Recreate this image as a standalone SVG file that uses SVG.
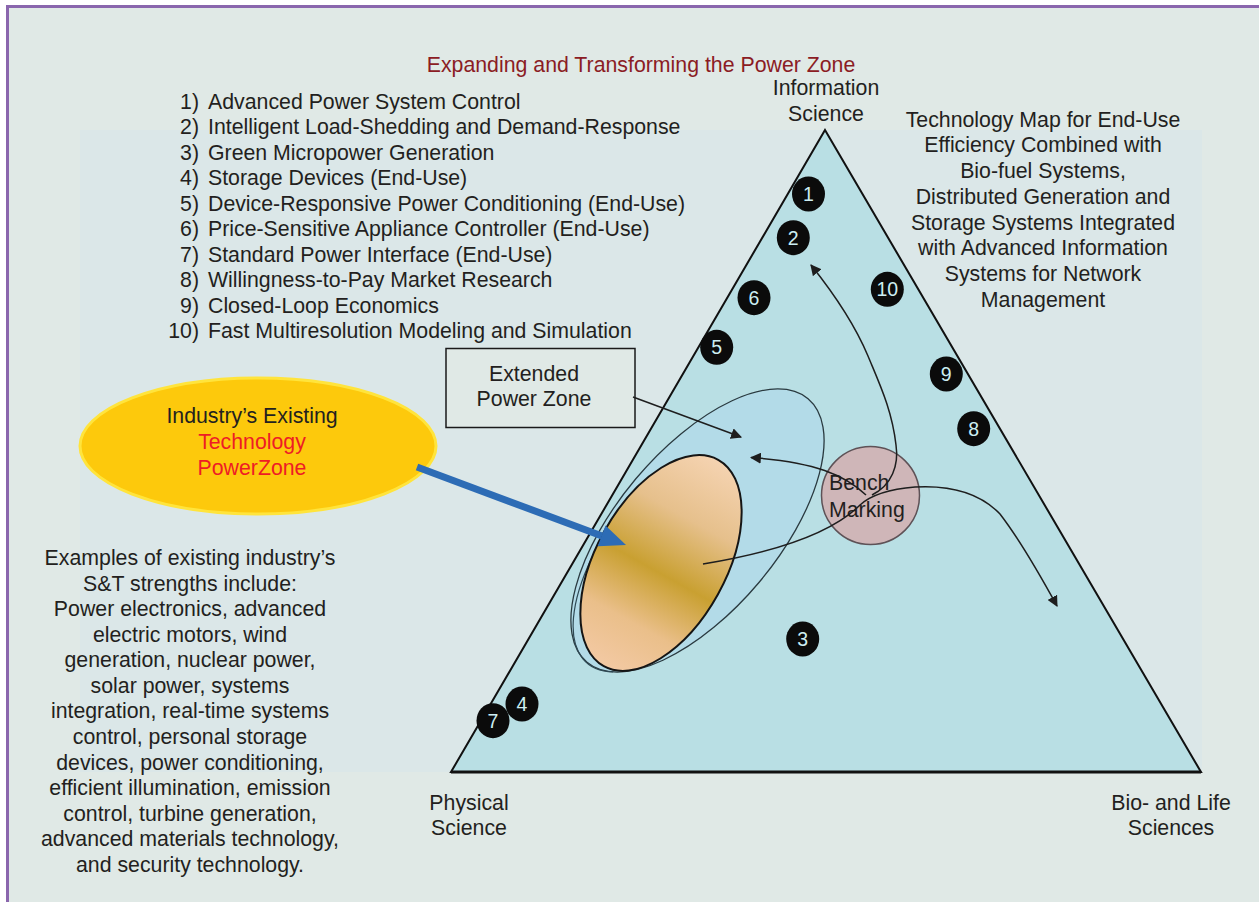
<svg xmlns="http://www.w3.org/2000/svg" width="1259" height="902" viewBox="0 0 1259 902">
<style>
text{font-family:"Liberation Sans",Arial,Helvetica,sans-serif;fill:#231f20}
.t21{font-size:21.3px}
.t20{font-size:21.3px}
.c{text-anchor:middle}
.e{text-anchor:end}
.num{fill:#0b0b0b}
.numt{font-size:19.5px;fill:#cdeef2;text-anchor:middle}
.conn{fill:none;stroke:#1e1e1e;stroke-width:1.5}
</style>
<defs>
<marker id="ah" viewBox="0 0 10 10" refX="9" refY="5" markerWidth="11" markerHeight="11" markerUnits="userSpaceOnUse" orient="auto">
<path d="M0,0 L10,5 L0,10 Z" fill="#1e1e1e"/>
</marker>
<linearGradient id="og" x1="0" y1="0" x2="1" y2="0">
<stop offset="0" stop-color="#f3c9a3"/>
<stop offset="0.22" stop-color="#eabf8a"/>
<stop offset="0.46" stop-color="#c9a031"/>
<stop offset="0.72" stop-color="#e6c08c"/>
<stop offset="1" stop-color="#f5d3b1"/>
</linearGradient>
</defs>
<rect x="0" y="0" width="1259" height="902" fill="#ffffff"/>
<rect x="7" y="6" width="1252" height="896" fill="#e0e9e6"/>
<rect x="80" y="130" width="1122" height="642" fill="#dbe7e8"/>
<path d="M7.5,902 V6.5 H1259" fill="none" stroke="#8a66ad" stroke-width="3"/>

<text class="t21 c" x="641" y="72" style="fill:#8b1c24">Expanding and Transforming the Power Zone</text>

<g id="list">
<text class="t20 e" x="199" y="108.5">1)</text><text class="t20" x="208" y="108.5">Advanced Power System Control</text>
<text class="t20 e" x="199" y="134">2)</text><text class="t20" x="208" y="134">Intelligent Load-Shedding and Demand-Response</text>
<text class="t20 e" x="199" y="159.5">3)</text><text class="t20" x="208" y="159.5">Green Micropower Generation</text>
<text class="t20 e" x="199" y="185">4)</text><text class="t20" x="208" y="185">Storage Devices (End-Use)</text>
<text class="t20 e" x="199" y="210.5">5)</text><text class="t20" x="208" y="210.5">Device-Responsive Power Conditioning (End-Use)</text>
<text class="t20 e" x="199" y="236">6)</text><text class="t20" x="208" y="236">Price-Sensitive Appliance Controller (End-Use)</text>
<text class="t20 e" x="199" y="261.5">7)</text><text class="t20" x="208" y="261.5">Standard Power Interface (End-Use)</text>
<text class="t20 e" x="199" y="287">8)</text><text class="t20" x="208" y="287">Willingness-to-Pay Market Research</text>
<text class="t20 e" x="199" y="312.5">9)</text><text class="t20" x="208" y="312.5">Closed-Loop Economics</text>
<text class="t20 e" x="199" y="338">10)</text><text class="t20" x="208" y="338">Fast Multiresolution Modeling and Simulation</text>
</g>

<g id="info-science">
<text class="t21 c" x="826" y="95">Information</text>
<text class="t21 c" x="826" y="121">Science</text>
</g>

<g id="tech-map-note">
<text class="t21 c" x="1043" y="126.7">Technology Map for End-Use</text>
<text class="t21 c" x="1043" y="152.4">Efficiency Combined with</text>
<text class="t21 c" x="1043" y="178.1">Bio-fuel Systems,</text>
<text class="t21 c" x="1043" y="203.8">Distributed Generation and</text>
<text class="t21 c" x="1043" y="229.5">Storage Systems Integrated</text>
<text class="t21 c" x="1043" y="255.2">with Advanced Information</text>
<text class="t21 c" x="1043" y="280.9">Systems for Network</text>
<text class="t21 c" x="1043" y="306.6">Management</text>
</g>

<g id="triangle">
<path d="M825,130 L1201,772 L451,772 Z" fill="#b9dfe4" stroke="#111" stroke-width="2" stroke-linejoin="miter"/>
<line x1="451" y1="772" x2="1201" y2="772" stroke="#111" stroke-width="3"/>
</g>

<g id="extended-zone">
<ellipse cx="697.5" cy="530.5" rx="172" ry="80.5" transform="rotate(-50 697.5 530.5)" fill="#b3dbe8" stroke="#2a3a40" stroke-width="1.3"/>
<path d="M613.1,671.8 A166,74 -50 0 1 628.2,499.7" fill="none" stroke="#2f4a55" stroke-width="1.2"/>
</g>

<g id="existing-zone">
<ellipse cx="661" cy="563" rx="118" ry="65" transform="rotate(-61 661 563)" fill="url(#og)" stroke="#151515" stroke-width="2"/>
</g>

<g id="bench-marking">
<circle cx="870.5" cy="495.5" r="49" fill="#cfb6b8" stroke="#5e5257" stroke-width="1.5"/>
<text class="t21" x="829" y="490">Bench</text>
<text class="t21" x="829" y="516.5">Marking</text>
</g>

<g id="ext-box">
<rect x="446" y="348.5" width="189" height="79" fill="#e0e9e6" stroke="#1a1a1a" stroke-width="1.5"/>
<text class="t21 c" x="534" y="381">Extended</text>
<text class="t21 c" x="534" y="405.5">Power Zone</text>
</g>

<g id="industry-zone">
<ellipse cx="258" cy="446" rx="178" ry="68" fill="#fdc90c" stroke="#ffe43c" stroke-width="3"/>
<text class="t21 c" x="252" y="423">Industry’s Existing</text>
<text class="t21 c" x="252" y="449" style="fill:#ee1c25">Technology</text>
<text class="t21 c" x="252" y="474.5" style="fill:#ee1c25">PowerZone</text>
</g>

<g id="examples-note">
<text class="t21 c" x="190" y="565">Examples of existing industry’s</text>
<text class="t21 c" x="190" y="590.6">S&amp;T strengths include:</text>
<text class="t21 c" x="190" y="616.1">Power electronics, advanced</text>
<text class="t21 c" x="190" y="641.7">electric motors, wind</text>
<text class="t21 c" x="190" y="667.2">generation, nuclear power,</text>
<text class="t21 c" x="190" y="692.8">solar power, systems</text>
<text class="t21 c" x="190" y="718.4">integration, real-time systems</text>
<text class="t21 c" x="190" y="743.9">control, personal storage</text>
<text class="t21 c" x="190" y="769.5">devices, power conditioning,</text>
<text class="t21 c" x="190" y="795">efficient illumination, emission</text>
<text class="t21 c" x="190" y="820.6">control, turbine generation,</text>
<text class="t21 c" x="190" y="846.2">advanced materials technology,</text>
<text class="t21 c" x="190" y="871.7">and security technology.</text>
</g>

<g id="physical-science">
<text class="t21 c" x="469" y="810">Physical</text>
<text class="t21 c" x="469" y="835">Science</text>
</g>
<g id="bio-life">
<text class="t21 c" x="1171" y="810">Bio- and Life</text>
<text class="t21 c" x="1171" y="835">Sciences</text>
</g>

<g id="markers">
<g id="m1"><ellipse class="num" cx="808.5" cy="194" rx="16.5" ry="17.5"/><text class="numt" x="808.5" y="201">1</text></g>
<g id="m2"><ellipse class="num" cx="793.3" cy="237.7" rx="16.5" ry="17.5"/><text class="numt" x="793.3" y="244.7">2</text></g>
<g id="m3"><ellipse class="num" cx="802.7" cy="639" rx="16.5" ry="17.5"/><text class="numt" x="802.7" y="646">3</text></g>
<g id="m4"><ellipse class="num" cx="522" cy="704" rx="16.5" ry="17.5"/><text class="numt" x="522" y="711">4</text></g>
<g id="m5"><ellipse class="num" cx="716.7" cy="347.3" rx="16.5" ry="17.5"/><text class="numt" x="716.7" y="354.3">5</text></g>
<g id="m6"><ellipse class="num" cx="754" cy="297.7" rx="16.5" ry="17.5"/><text class="numt" x="754" y="304.7">6</text></g>
<g id="m7"><ellipse class="num" cx="493" cy="720.7" rx="16.5" ry="17.5"/><text class="numt" x="493" y="727.7">7</text></g>
<g id="m8"><ellipse class="num" cx="973.7" cy="428.7" rx="16.5" ry="17.5"/><text class="numt" x="973.7" y="435.7">8</text></g>
<g id="m9"><ellipse class="num" cx="946.3" cy="374" rx="16.5" ry="17.5"/><text class="numt" x="946.3" y="381">9</text></g>
<g id="m10"><ellipse class="num" cx="887.3" cy="289.3" rx="16.5" ry="17.5"/><text class="numt" x="887.3" y="296.3">10</text></g>
</g>

<g id="connectors">
<path class="conn" d="M633,397 L741,437" marker-end="url(#ah)"/>
<path class="conn" d="M703,564 C770,553 830,535 860,505 C872,494 890,489 915,487 C950,485 980,493 1000,514 C1020,540 1040,575 1057,606" marker-end="url(#ah)"/>
<path class="conn" d="M866,495 C845,475 815,462 751,457.5" marker-end="url(#ah)"/>
<path class="conn" d="M872,495 C892,485 899,465 896,445 C892,410 880,385 868,356 C855,325 835,295 811,265" marker-end="url(#ah)"/>
<g id="blue-arrow">
<line x1="417" y1="467" x2="602" y2="536" stroke="#2d6cb5" stroke-width="7"/>
<polygon points="626,545 597.7,546.2 605.5,525.6" fill="#2d6cb5"/>
</g>
</g>
</svg>
